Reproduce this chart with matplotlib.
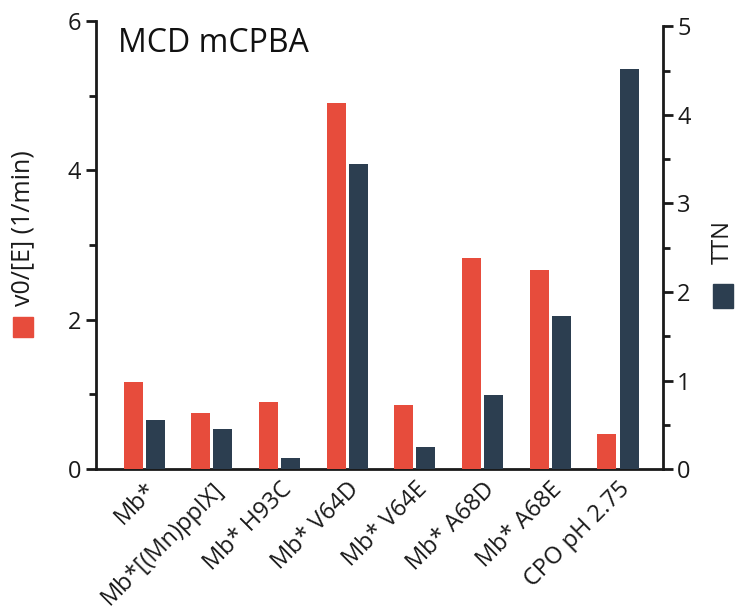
import matplotlib
matplotlib.use("Agg")
import matplotlib.pyplot as plt
import numpy as np
from matplotlib.patches import Rectangle
from matplotlib.ticker import MultipleLocator

plt.rcParams['font.family'] = ['Open Sans', 'DejaVu Sans']

categories = ["Mb*", "Mb*[(Mn)ppIX]", "Mb* H93C", "Mb* V64D",
              "Mb* V64E", "Mb* A68D", "Mb* A68E", "CPO pH 2.75"]
rate = [1.17, 0.75, 0.905, 4.90, 0.857, 2.82, 2.66, 0.47]   # v0/[E] (1/min), left axis
ttn = [0.55, 0.45, 0.13, 3.45, 0.255, 0.84, 1.73, 4.52]      # TTN, right axis

red = "#E74C3C"
navy = "#2C3E50"

fig = plt.figure(figsize=(7.35, 6.10), dpi=100)
ax = fig.add_axes([0.1306, 0.231, 0.771, 0.7346])
ax2 = ax.twinx()

x = np.arange(len(categories))
w = 0.28
off = 0.163
ax.bar(x - off, rate, w, color=red, zorder=3)
ax2.bar(x + off, ttn, w, color=navy, zorder=3)

ax.set_xlim(-0.71, 7.66)
ax.set_ylim(0, 6)
ax2.set_ylim(0, 5.06)
ax2.spines['right'].set_bounds(0, 5)

ax.yaxis.set_major_locator(MultipleLocator(2))
ax.yaxis.set_minor_locator(MultipleLocator(1))
ax2.yaxis.set_major_locator(MultipleLocator(1))
ax2.yaxis.set_minor_locator(MultipleLocator(0.5))

for a in (ax, ax2):
    a.spines['top'].set_visible(False)
    for s in a.spines.values():
        s.set_linewidth(2.0)
        s.set_color("#1a1a1a")
    a.tick_params(axis='y', which='major', length=7, width=2.0, labelsize=17, colors="#1a1a1a")
    a.tick_params(axis='y', which='minor', length=5, width=2.0, colors="#1a1a1a")
ax.spines['right'].set_visible(False)
ax2.spines['left'].set_visible(False)
ax2.spines['bottom'].set_visible(False)

ax.set_xticks(x)
ax.set_xticklabels(categories, rotation=45, ha='right', rotation_mode='anchor')
ax.tick_params(axis='x', length=0, labelsize=17, pad=6, colors="#1a1a1a")

ax.text(0.038, 0.95, "MCD mCPBA", transform=ax.transAxes, fontsize=23,
        va='center', ha='left', color="#111111")

# axis labels with colour keys
fig.text(23 / 735, 1 - 228 / 610, "v0/[E] (1/min)", rotation=90, fontsize=18,
         ha='center', va='center', color="#1a1a1a")
fig.patches.append(Rectangle((13 / 735, 1 - 337 / 610), 20 / 735, 20 / 610,
                             transform=fig.transFigure, color=red, figure=fig))
fig.text(723 / 735, 1 - 242 / 610, "TTN", rotation=90, fontsize=17,
         ha='center', va='center', color="#1a1a1a")
fig.patches.append(Rectangle((713 / 735, 1 - 308 / 610), 20 / 735, 24 / 610,
                             transform=fig.transFigure, color=navy, figure=fig))

fig.savefig("out.png", dpi=100)
